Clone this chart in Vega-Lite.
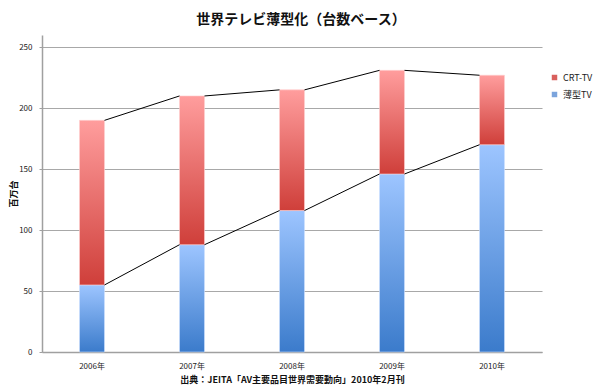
{
  "$schema": "https://vega.github.io/schema/vega-lite/v6.json",
  "autosize": "none",
  "width": 500,
  "height": 317,
  "padding": {"left": 42, "top": 35, "right": 58, "bottom": 39},
  "background": "white",
  "config": {
    "font": "Noto Sans CJK JP",
    "view": {"stroke": null}
  },
  "title": {
    "text": "世界テレビ薄型化（台数ベース）",
    "fontSize": 14,
    "fontWeight": "bold",
    "color": "#111",
    "offset": 8,
    "dx": 9
  },
  "data": {
    "values": [
      {"year": "2006年", "series": "薄型TV", "value": 55},
      {"year": "2006年", "series": "CRT-TV", "value": 135},
      {"year": "2007年", "series": "薄型TV", "value": 88},
      {"year": "2007年", "series": "CRT-TV", "value": 122},
      {"year": "2008年", "series": "薄型TV", "value": 116},
      {"year": "2008年", "series": "CRT-TV", "value": 99},
      {"year": "2009年", "series": "薄型TV", "value": 146},
      {"year": "2009年", "series": "CRT-TV", "value": 85},
      {"year": "2010年", "series": "薄型TV", "value": 170},
      {"year": "2010年", "series": "CRT-TV", "value": 57}
    ]
  },
  "transform": [
    {"stack": "value", "groupby": ["year"], "sort": [{"field": "series", "order": "descending"}], "as": ["v0", "v1"]}
  ],
  "encoding": {
    "x": {
      "field": "year",
      "type": "ordinal",
      "scale": {"paddingInner": 0.75, "paddingOuter": 0.375},
      "axis": {
        "title": "出典：JEITA「AV主要品目世界需要動向」2010年2月刊",
        "titleFontSize": 9,
        "titleFontWeight": "bold",
        "titleColor": "#111",
        "titlePadding": 5,
        "labelAngle": 0,
        "labelFontSize": 8,
        "labelColor": "#222",
        "labelPadding": 10,
        "ticks": false,
        "domainColor": "#a0a0a0",
        "domainWidth": 1.5
      }
    }
  },
  "layer": [
    {
      "transform": [{"filter": "datum.series === '薄型TV'"}],
      "mark": {
        "type": "bar",
        "stroke": "#cfe0ff",
        "strokeWidth": 0.6,
        "color": {
          "gradient": "linear", "x1": 0, "y1": 0, "x2": 0, "y2": 1,
          "stops": [
            {"offset": 0, "color": "#9dc5ff"},
            {"offset": 1, "color": "#3b7bcb"}
          ]
        }
      },
      "encoding": {
        "y": {
          "field": "v1",
          "type": "quantitative",
          "scale": {"domain": [0, 250]},
          "axis": {
            "title": "百万台",
            "titleFontSize": 9,
            "titleFontWeight": "bold",
            "titleColor": "#111",
            "titlePadding": 0,
            "values": [0, 50, 100, 150, 200, 250],
            "labelFontSize": 8,
            "labelColor": "#222",
            "labelPadding": 7,
            "tickSize": 3,
            "tickColor": "#a0a0a0",
            "domainColor": "#a0a0a0",
            "domainWidth": 1.5,
            "gridColor": "#a8a8a8",
            "gridWidth": 1.2
          }
        },
        "y2": {"field": "v0"}
      }
    },
    {
      "transform": [{"filter": "datum.series === 'CRT-TV'"}],
      "mark": {
        "type": "bar",
        "stroke": "#ffd0d0",
        "strokeWidth": 0.6,
        "color": {
          "gradient": "linear", "x1": 0, "y1": 0, "x2": 0, "y2": 1,
          "stops": [
            {"offset": 0, "color": "#ff9d9d"},
            {"offset": 1, "color": "#cf3f3a"}
          ]
        }
      },
      "encoding": {
        "y": {"field": "v1", "type": "quantitative"},
        "y2": {"field": "v0"}
      }
    },
    {
      "transform": [
        {"window": [{"op": "lead", "field": "v1", "as": "nv"}, {"op": "lead", "field": "year", "as": "ny"}], "groupby": ["series"], "sort": [{"field": "year"}]},
        {"filter": "datum.ny != null"}
      ],
      "mark": {"type": "rule", "color": "#000", "strokeWidth": 1},
      "encoding": {
        "x": {"field": "year", "type": "ordinal", "bandPosition": 1},
        "x2": {"field": "ny", "bandPosition": 0},
        "y": {"field": "v1", "type": "quantitative"},
        "y2": {"field": "nv"}
      }
    },
    {
      "mark": {"type": "square", "opacity": 0},
      "encoding": {
        "y": {"datum": 0, "type": "quantitative"},
        "color": {
          "field": "series",
          "type": "nominal",
          "scale": {"domain": ["CRT-TV", "薄型TV"], "range": ["#d9605d", "#7ba4dc"]},
          "legend": {
            "title": null,
            "orient": "none",
            "legendX": 508,
            "legendY": 38,
            "symbolType": "square",
            "symbolSize": 30,
            "symbolOpacity": 1,
            "labelFontSize": 9,
            "labelColor": "#222",
            "rowPadding": 7,
            "labelOffset": 4,
            "encode": {"symbols": {"update": {"opacity": {"value": 1}}}}
          }
        }
      }
    }
  ]
}
